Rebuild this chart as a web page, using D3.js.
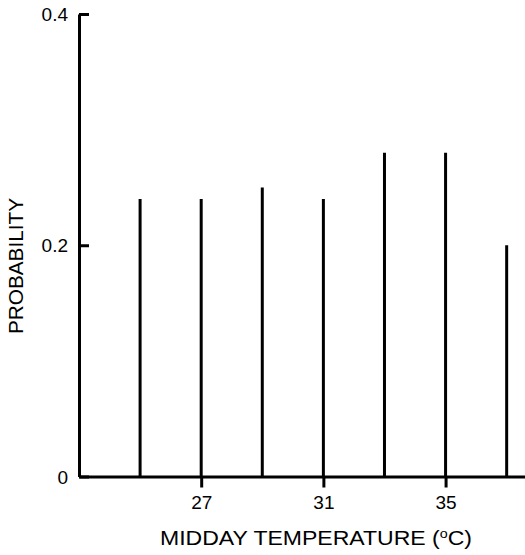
<!doctype html>
<html>
  <head>
    <meta charset="utf-8" />
    <title>Midday temperature probability</title>
    <style>
      html, body { margin: 0; padding: 0; background: #fff; }
      svg { display: block; font-family: "Liberation Sans", Arial, Helvetica, sans-serif; }
      .axis path, .axis line { stroke: #000; stroke-width: 3; }
      .axis text { fill: #000; }
    </style>
  </head>
  <body>
    <svg id="chart" width="525" height="555"></svg>

    <script src="https://d3js.org/d3.v7.min.js"></script>
    <script>
      // data
      const temps = [25, 27, 29, 31, 33, 35, 37];
      const probs = [0.24, 0.24, 0.25, 0.24, 0.28, 0.28, 0.2];
      const xTicks = [27, 31, 35];
      const yTicks = [0, 0.2, 0.4];

      const svg = d3.select('#chart');

      const x = d3.scaleLinear().domain([23, 37.6]).range([79, 525]);
      const y = d3.scaleLinear().domain([0, 0.4]).range([476.5, 14]);

      // bars are drawn as thin vertical spikes
      svg
        .append('g')
        .selectAll('line')
        .data(temps)
        .join('line')
        .attr('x1', (d) => x(d))
        .attr('x2', (d) => x(d))
        .attr('y1', y(0))
        .attr('y2', (d, i) => y(probs[i]))
        .attr('stroke', '#000')
        .attr('stroke-width', 3);

      // y axis, ticks pointing inward
      const yAxis = svg
        .append('g')
        .attr('class', 'axis')
        .attr('transform', `translate(${x.range()[0]},0)`)
        .call(
          d3
            .axisLeft(y)
            .tickValues(yTicks)
            .tickSizeInner(-10)
            .tickSizeOuter(0)
            .tickPadding(11)
            .tickFormat((d) => (d === 0 ? '0' : d.toFixed(1))),
        );
      yAxis.attr('font-size', 19);
      yAxis.selectAll('.tick text').attr('dy', '0.35em');

      // x axis
      const xAxis = svg
        .append('g')
        .attr('class', 'axis')
        .attr('transform', `translate(0,${y(0)})`)
        .call(
          d3
            .axisBottom(x)
            .tickValues(xTicks)
            .tickSizeInner(11)
            .tickSizeOuter(0)
            .tickPadding(8),
        );
      xAxis.attr('font-size', 19);

      // axis titles
      svg
        .append('text')
        .attr('transform', 'translate(23,266) rotate(-90)')
        .attr('text-anchor', 'middle')
        .attr('font-size', 20)
        .attr('textLength', 136)
        .attr('lengthAdjust', 'spacingAndGlyphs')
        .text('PROBABILITY');

      const xt = svg
        .append('text')
        .attr('x', 160)
        .attr('y', 545)
        .attr('font-size', 21)
        .attr('textLength', 312)
        .attr('lengthAdjust', 'spacingAndGlyphs');
      xt.append('tspan').text('MIDDAY TEMPERATURE (');
      xt.append('tspan').attr('font-size', 13).attr('dy', -7).text('o');
      xt.append('tspan').attr('dy', 7).text('C)');
    </script>
  </body>
</html>
